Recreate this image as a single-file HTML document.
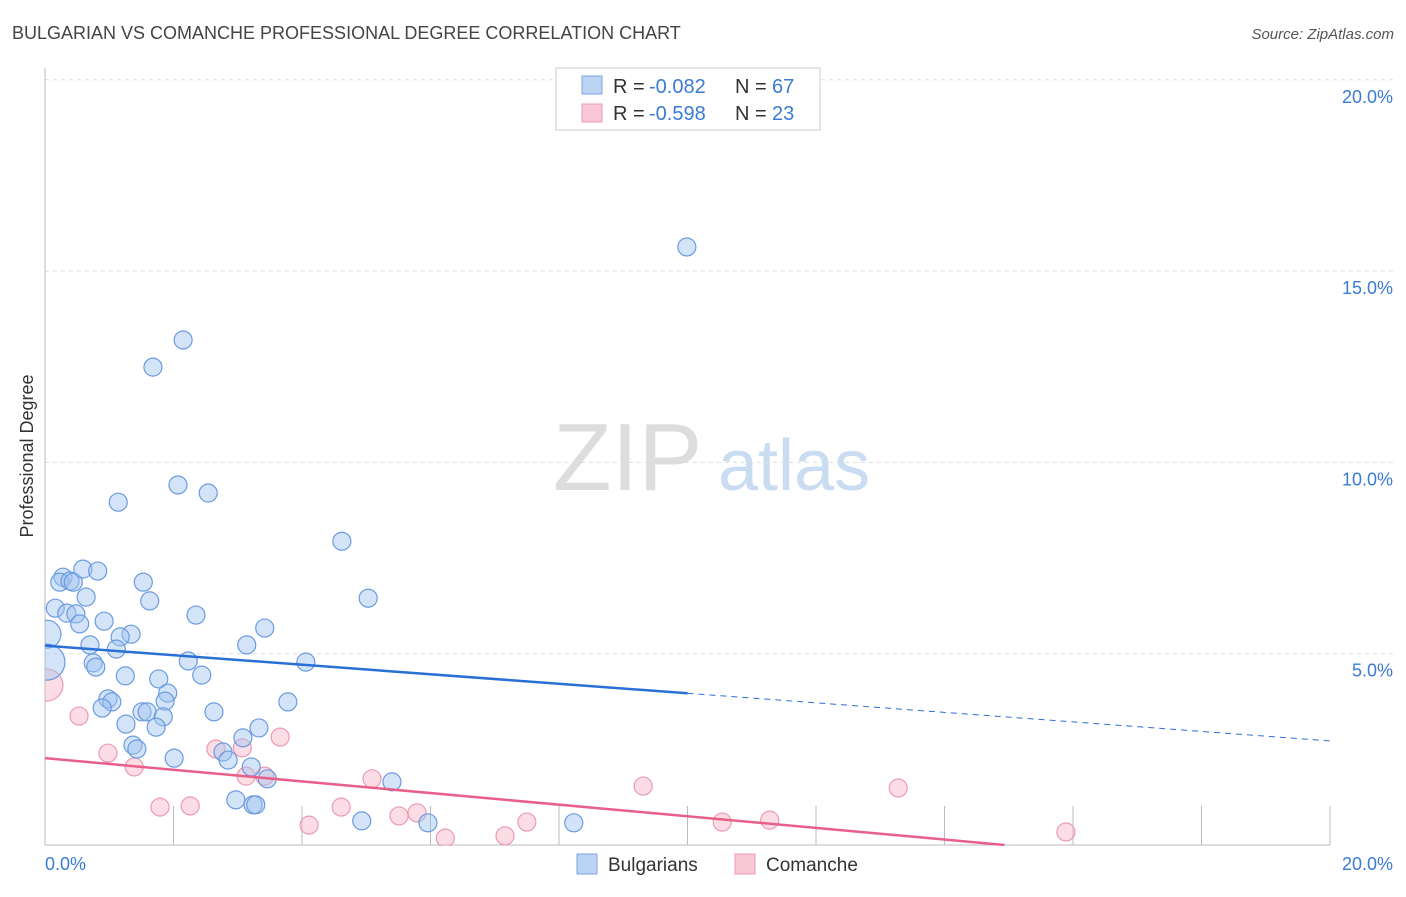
<!DOCTYPE html>
<html><head><meta charset="utf-8"><style>
body{margin:0;background:#fff;font-family:"Liberation Sans",sans-serif;}
svg text{font-family:"Liberation Sans",sans-serif;}
</style></head><body>
<svg id="chart" width="1406" height="892" xmlns="http://www.w3.org/2000/svg">
<defs><clipPath id="plotclip"><rect x="45" y="60" width="1360" height="786"/></clipPath></defs>
<text x="12" y="39" font-size="18" fill="#444">BULGARIAN VS COMANCHE PROFESSIONAL DEGREE CORRELATION CHART</text>
<text x="1394" y="39" font-size="15" fill="#555" text-anchor="end" font-style="italic">Source: ZipAtlas.com</text>
<text x="553" y="490" font-size="96" fill="#ddd" font-family="Liberation Serif">ZIP</text>
<text x="718" y="490" font-size="72" fill="#c9dcf2">atlas</text>
<text transform="translate(33,456) rotate(-90)" font-size="18" fill="#333" text-anchor="middle">Professional Degree</text>
<g id="grid"></g><g id="axes"></g><g id="marks" clip-path="url(#plotclip)"></g>
<g>
<rect x="556" y="68" width="264" height="62" fill="#fff" stroke="#ccc"/>
<rect x="582" y="76" width="20" height="18" fill="#bcd4f4" stroke="#7aa6e0"/>
<text x="613" y="93" font-size="20" fill="#333">R =</text>
<text x="649" y="93" font-size="20" fill="#3a7bd5">-0.082</text>
<text x="735" y="93" font-size="20" fill="#333">N =</text>
<text x="772" y="93" font-size="20" fill="#3a7bd5">67</text>
<rect x="582" y="104" width="20" height="18" fill="#f8c8d6" stroke="#eb9ab4"/>
<text x="613" y="120" font-size="20" fill="#333">R =</text>
<text x="649" y="120" font-size="20" fill="#3a7bd5">-0.598</text>
<text x="735" y="120" font-size="20" fill="#333">N =</text>
<text x="772" y="120" font-size="20" fill="#3a7bd5">23</text>
</g>
<g>
<rect x="577" y="854" width="20" height="20" fill="#bcd4f4" stroke="#7aa6e0"/>
<text x="608" y="871" font-size="19" fill="#333">Bulgarians</text>
<rect x="735" y="854" width="20" height="20" fill="#f8c8d6" stroke="#eb9ab4"/>
<text x="766" y="871" font-size="19" fill="#333">Comanche</text>
</g>
</svg>
<script>
const blueX=[9.99,2.15,1.68,2.07,2.54,1.14,4.62,5.03,0.28,0.23,0.39,0.44,0.59,0.82,1.53,0.64,0.16,0.34,0.48,1.63,2.35,0.54,0.92,1.34,1.17,3.42,3.14,0.70,1.11,0.75,0.79,2.23,4.06,2.44,1.25,1.77,1.91,0.98,1.04,1.87,0.89,3.78,1.51,1.59,2.63,1.84,1.26,1.73,3.33,3.08,1.37,1.43,2.77,2.85,2.01,3.21,3.46,5.40,2.97,3.24,3.28,4.93,5.96,8.23,0.03,0.03];
const blueY=[15.63,13.20,12.49,9.41,9.20,8.96,7.94,6.45,7.00,6.87,6.90,6.87,7.21,7.16,6.87,6.48,6.19,6.06,6.04,6.38,6.01,5.78,5.85,5.51,5.44,5.67,5.23,5.23,5.12,4.76,4.65,4.81,4.78,4.44,4.42,4.34,3.97,3.82,3.74,3.76,3.58,3.74,3.48,3.48,3.48,3.35,3.16,3.08,3.06,2.80,2.61,2.51,2.43,2.22,2.27,2.04,1.73,1.65,1.18,1.05,1.05,0.63,0.58,0.58,5.51,4.78];
const blueR=blueX.map((v,i)=>i>=64?(i==64?14:18):9);
const pinkX=[0.03,0.53,0.98,1.39,3.07,2.66,3.66,3.13,3.42,5.09,9.31,13.28,1.79,2.26,4.61,4.11,5.51,5.79,7.50,6.23,7.16,10.54,11.28,15.89];
const pinkY=[4.18,3.37,2.40,2.04,2.54,2.51,2.82,1.80,1.80,1.73,1.54,1.49,0.99,1.02,0.99,0.52,0.76,0.84,0.60,0.18,0.24,0.60,0.65,0.34];
const pinkR=pinkX.map((v,i)=>i==0?16:9);
const blueTrend=[5.21,-0.1245];
const pinkTrend=[2.27,-0.152];
const yTicks=[5,10,15,20];
const xTicks=[0,2,4,6,8,10,12,14,16,18,20];
const NS="http://www.w3.org/2000/svg";
const sx=v=>45+v*64.25, sy=v=>845-v*38.26;
function mk(tag,attrs,parent){const e=document.createElementNS(NS,tag);for(const k in attrs)e.setAttribute(k,attrs[k]);document.getElementById(parent).appendChild(e);return e;}
yTicks.forEach(t=>{
 const l=mk('line',{x1:45,x2:1394,y1:sy(t),y2:sy(t),stroke:'#ddd','stroke-dasharray':'4,4'},'grid');
 
 
 const tx=mk('text',{x:1393,y:sy(t)+23,'font-size':18,fill:'#3a7bd5','text-anchor':'end'},'grid');tx.textContent=t.toFixed(1)+'%';
 
 
});
const ax=mk('line',{x1:45,x2:45,y1:68,y2:845,stroke:'#bbb'},'axes');


const bx=mk('line',{x1:45,x2:1330,y1:845,y2:845,stroke:'#bbb'},'axes');


xTicks.forEach(t=>{if(t==0)return;const l=mk('line',{x1:sx(t),x2:sx(t),y1:806,y2:845,stroke:'#bbb'},'axes');
 
 });
const x0=mk('text',{x:45,y:870,'font-size':18,fill:'#3a7bd5'},'axes');x0.textContent='0.0%';


const x1=mk('text',{x:1393,y:870,'font-size':18,fill:'#3a7bd5','text-anchor':'end'},'axes');x1.textContent='20.0%';


pinkX.forEach((v,i)=>{const c=mk('circle',{cx:sx(v),cy:sy(pinkY[i]),r:pinkR[i],fill:'rgba(248,180,200,0.45)',stroke:'#eb9ab4','stroke-width':1.2},'marks');
 
 });
blueX.forEach((v,i)=>{const c=mk('circle',{cx:sx(v),cy:sy(blueY[i]),r:blueR[i],fill:'rgba(160,196,240,0.45)',stroke:'#6b9be0','stroke-width':1.2},'marks');
 
 });
const bl=mk('line',{x1:sx(0),y1:sy(blueTrend[0]),x2:sx(10),y2:sy(blueTrend[0]+10*blueTrend[1]),stroke:'#2a6fd6','stroke-width':2.5},'marks');


const bd=mk('line',{x1:sx(10),y1:sy(blueTrend[0]+10*blueTrend[1]),x2:sx(20),y2:sy(blueTrend[0]+20*blueTrend[1]),stroke:'#2a6fd6','stroke-width':1,'stroke-dasharray':'6,5'},'marks');


const pEnd=-pinkTrend[0]/pinkTrend[1];
const pl=mk('line',{x1:sx(0),y1:sy(pinkTrend[0]),x2:sx(pEnd),y2:sy(0),stroke:'#e8608a','stroke-width':2.5},'marks');


</script>
</body></html>
